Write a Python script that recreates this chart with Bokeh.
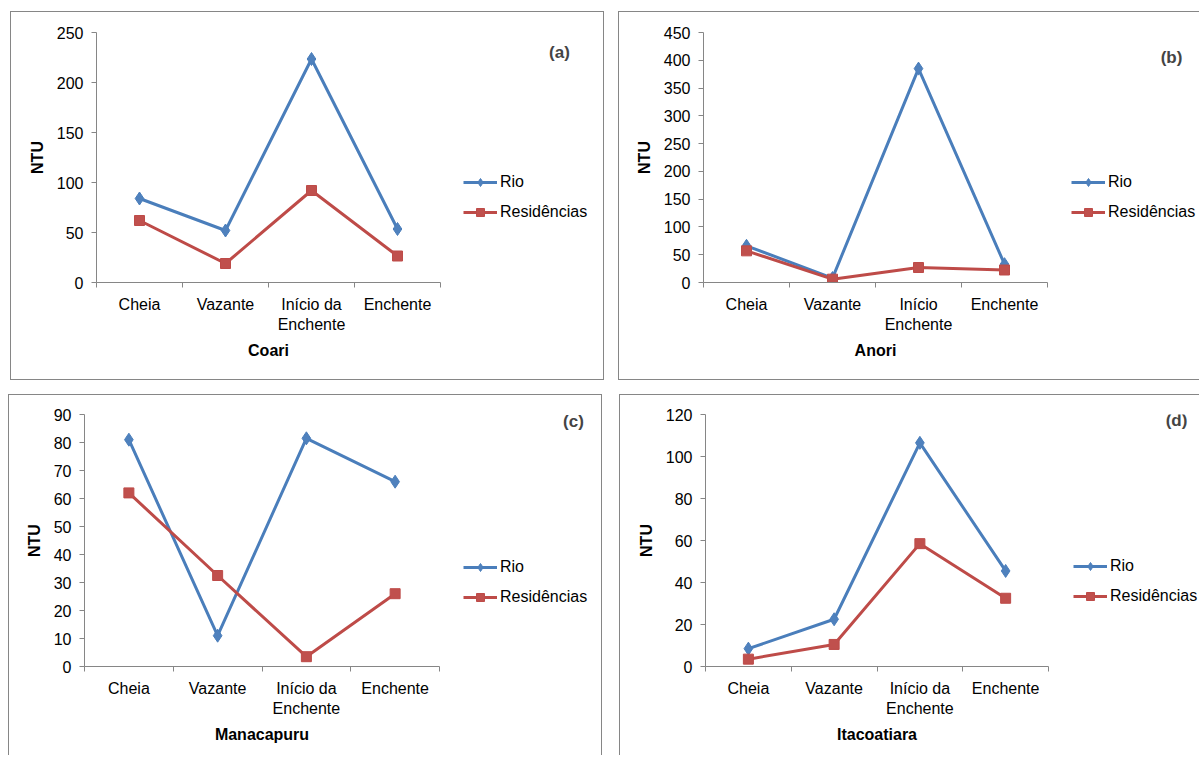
from bokeh.plotting import figure
from bokeh.models import (Range1d, FixedTicker, Legend, LegendItem, Label,
                          Spacer, Title)
from bokeh.layouts import row, column
from bokeh.embed import file_html
from bokeh.resources import INLINE

# ---------------- data ----------------
seasons_da = ["Cheia", "Vazante", "Início da\nEnchente", "Enchente"]
seasons_anori = ["Cheia", "Vazante", "Início\nEnchente", "Enchente"]

coari_rio = [84, 52, 223.5, 53.5]
coari_res = [62, 19, 92, 26.5]

anori_rio = [66, 8, 385, 33]
anori_res = [57, 6, 27, 22.5]

manacapuru_rio = [81, 11, 81.5, 66]
manacapuru_res = [62, 32.5, 3.5, 26]

itacoatiara_rio = [8.5, 22.5, 106.5, 45.5]
itacoatiara_res = [3.5, 10.5, 58.5, 32.5]

series_names = ["Rio", "Residências"]
y_label = "NTU"

# ---------------- style ----------------
FONT = "Liberation Sans"
FS = "16px"
AXIS_GRAY = "#868686"
BORDER = "1px solid #868686"
RIO_LINE, RIO_FILL = "#4A7EBB", "#4F81BD"
RES_LINE, RES_FILL = "#BE4B48", "#C0504D"

# approximate advance widths (em/1000) of Liberation Sans Bold, used only to
# centre the place name under the category axis
BOLD_W = {"A": 722, "C": 722, "I": 278, "M": 833, "a": 556, "c": 556, "i": 278,
          "n": 611, "o": 611, "p": 611, "r": 389, "t": 333, "u": 611}


def text_w(s, px=16):
    return sum(BOLD_W.get(ch, 556) for ch in s) * px / 1000.0


def panel(cats, rio, res, ymax, ystep, place, letter,
          width, height, mb_left, cat_span, mb_top, frame_h,
          leg_loc, letter_loc, css):
    n = len(cats)
    frame_w = width - mb_left
    p = figure(width=width, height=height, output_backend="svg",
               toolbar_location=None,
               x_range=Range1d(0, n * frame_w / cat_span),
               y_range=Range1d(0, ymax))
    p.min_border_left = mb_left
    p.min_border_right = 0
    p.min_border_top = mb_top
    p.min_border_bottom = height - mb_top - frame_h
    p.outline_line_color = None
    p.background_fill_color = "white"
    p.border_fill_color = "white"
    p.xgrid.visible = False
    p.ygrid.visible = False
    p.styles = css

    xs = [i + 0.5 for i in range(n)]

    l1 = p.line(xs, rio, line_color=RIO_LINE, line_width=3)
    s1 = p.scatter(xs, rio, marker="diamond", size=13,
                   fill_color=RIO_FILL, line_color=RIO_LINE)
    l2 = p.line(xs, res, line_color=RES_LINE, line_width=3)
    s2 = p.scatter(xs, res, marker="square", size=10,
                   fill_color=RES_FILL, line_color=RES_LINE)

    # x axis (Excel style: ticks between categories)
    xa = p.xaxis[0]
    xa.bounds = (0, n)
    xa.ticker = FixedTicker(ticks=xs, minor_ticks=list(range(n + 1)))
    xa.major_label_overrides = {x: c for x, c in zip(xs, cats)}
    xa.major_tick_in = 0
    xa.major_tick_out = 0
    xa.minor_tick_in = 0
    xa.minor_tick_out = 5
    xa.minor_tick_line_color = AXIS_GRAY
    xa.axis_line_color = AXIS_GRAY
    xa.major_label_text_font = FONT
    xa.major_label_text_font_size = FS
    xa.major_label_text_color = "black"
    xa.major_label_standoff = 8

    # place name, centred under the category axis
    p.add_layout(Title(text=place, align="left", vertical_align="top",
                       offset=cat_span / 2 - text_w(place) / 2, standoff=12,
                       text_font=FONT, text_font_size=FS,
                       text_font_style="bold", text_color="black"), "below")

    ya = p.yaxis[0]
    ya.ticker = FixedTicker(ticks=list(range(0, ymax + 1, ystep)), minor_ticks=[])
    ya.major_tick_in = 0
    ya.major_tick_out = 5
    ya.major_tick_line_color = AXIS_GRAY
    ya.axis_line_color = AXIS_GRAY
    ya.major_label_text_font = FONT
    ya.major_label_text_font_size = FS
    ya.major_label_text_color = "black"
    ya.major_label_standoff = 8
    ya.axis_label = y_label
    ya.axis_label_text_font = FONT
    ya.axis_label_text_font_size = FS
    ya.axis_label_text_font_style = "bold"
    ya.axis_label_text_color = "black"
    ya.axis_label_standoff = 8

    legend = Legend(items=[LegendItem(label=series_names[0], renderers=[l1, s1]),
                           LegendItem(label=series_names[1], renderers=[l2, s2])],
                    location=leg_loc, orientation="vertical",
                    glyph_width=34, glyph_height=20, label_height=20,
                    label_standoff=3, spacing=10, padding=0, margin=0,
                    border_line_color=None, background_fill_alpha=0,
                    label_text_font=FONT, label_text_font_size=FS,
                    label_text_color="black")
    p.add_layout(legend)

    p.add_layout(Label(x=letter_loc[0], y=letter_loc[1], x_units="screen",
                       y_units="screen", text=letter, text_font=FONT,
                       text_font_size="17px", text_font_style="bold",
                       text_align="center", text_baseline="middle"))
    return p


full = {"border": BORDER}
top_right = {"border-left": BORDER, "border-top": BORDER, "border-bottom": BORDER}
bottom_left = {"border-left": BORDER, "border-top": BORDER, "border-right": BORDER}
bottom_right = {"border-left": BORDER, "border-top": BORDER}

pa = panel(seasons_da, coari_rio, coari_res, 250, 50, "Coari", "(a)",
           594, 369, 85, 344, 19, 251, (367, 60), (463, 230), full)
pb = panel(seasons_anori, anori_rio, anori_res, 450, 50, "Anori", "(b)",
           581, 369, 84, 344, 20, 250, (368, 60), (468, 225), top_right)
pc = panel(seasons_da, manacapuru_rio, manacapuru_res, 90, 10, "Manacapuru", "(c)",
           594, 361, 75, 355, 19, 252, (379, 59), (489, 245), bottom_left)
pd = panel(seasons_da, itacoatiara_rio, itacoatiara_res, 120, 20, "Itacoatiara", "(d)",
           580, 361, 85, 343, 19, 252, (368, 60), (471, 246), bottom_right)

layout = column(
    Spacer(height=11),
    row(Spacer(width=10), pa, Spacer(width=14), pb),
    Spacer(height=14),
    row(Spacer(width=8), pc, Spacer(width=17), pd),
)

open("out.html", "w").write(file_html(layout, INLINE))
